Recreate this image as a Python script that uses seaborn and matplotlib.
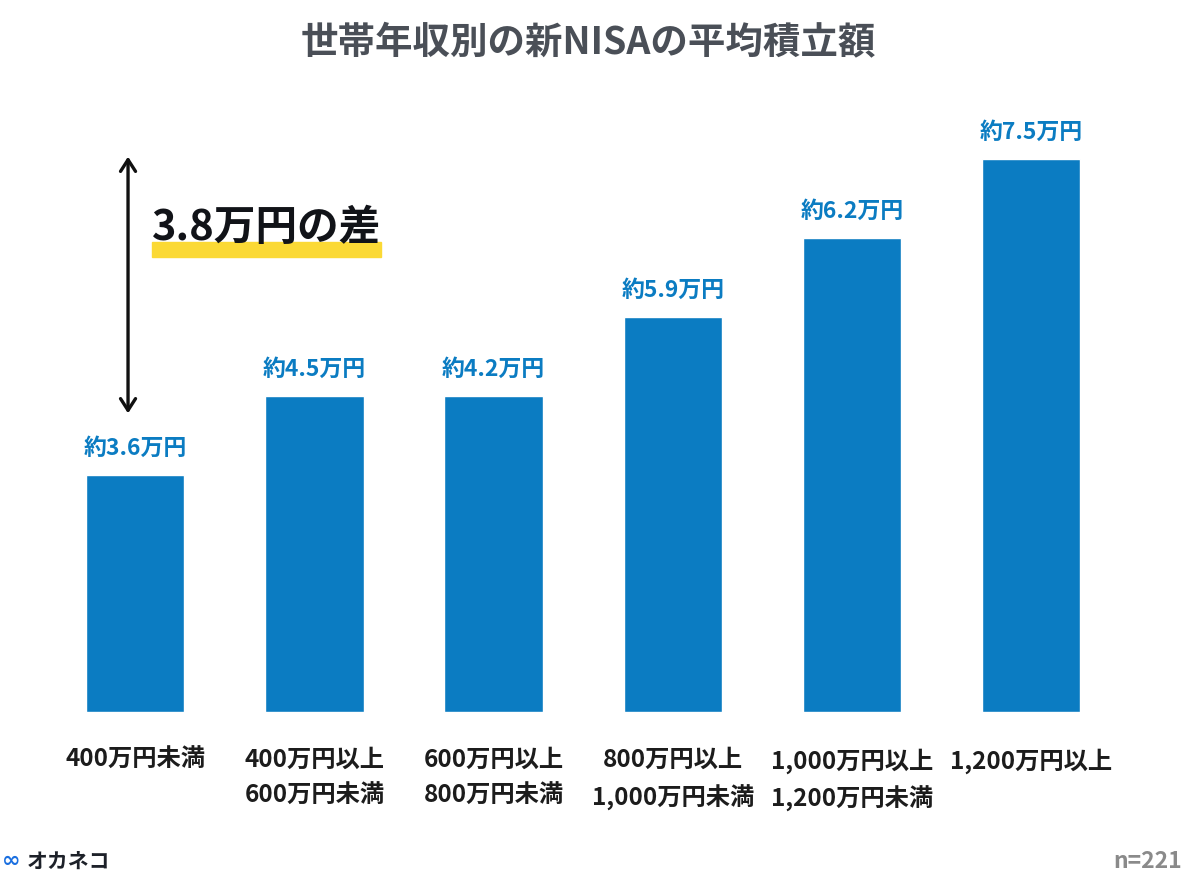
import matplotlib
matplotlib.use("Agg")
import matplotlib.pyplot as plt
import pandas as pd
import seaborn as sns

# データ
categories = ["400万円未満", "400万円以上\n600万円未満", "600万円以上\n800万円未満",
              "800万円以上\n1,000万円未満", "1,000万円以上\n1,200万円未満", "1,200万円以上"]
values = [3.6, 4.5, 4.2, 5.9, 6.2, 7.5]          # ラベルの金額 (万円)
bar_heights = [3, 4, 4, 5, 6, 7]                 # 図で描かれている棒の高さ
value_labels = ["約3.6万円", "約4.5万円", "約4.2万円", "約5.9万円", "約6.2万円", "約7.5万円"]
diff_label = "3.8万円の差"
title = "世帯年収別の新NISAの平均積立額"
n_label = "n=221"

sns.set_theme(style="white")
plt.rcParams['font.family'] = ['Noto Sans CJK JP', 'DejaVu Sans']

BLUE = "#0b7cc2"
df = pd.DataFrame({"cat": categories, "h": bar_heights})

fig = plt.figure(figsize=(12, 8.86), dpi=100)
ax = fig.add_axes([0.038, 0.1964, 0.896, 0.7133])
sns.barplot(data=df, x="cat", y="h", color=BLUE, width=0.55, saturation=1, ax=ax)
ax.set_xlim(-0.5, 5.5)
ax.set_ylim(0, 8)
ax.set_xlabel("")
ax.set_ylabel("")
ax.set_yticks([])
sns.despine(ax=ax, left=True, bottom=True)
ax.tick_params(axis="x", length=0, pad=26)
ax.set_xticks(range(len(categories)))
ax.set_xticklabels(categories, fontsize=17.5, fontweight="bold", color="#1c1c1c",
                   linespacing=1.6, va="top")

# 値ラベル
for i, (h, lab) in enumerate(zip(bar_heights, value_labels)):
    ax.annotate(lab, (i, h), xytext=(0, 11), textcoords="offset points",
                ha="center", va="bottom", fontsize=16.5, fontweight="bold", color=BLUE)

# 差の矢印
ax.annotate("", xy=(-0.04, 7.03), xytext=(-0.04, 3.78),
            arrowprops=dict(arrowstyle="<->,head_length=0.7,head_width=0.45",
                            color="#111111", lw=2.4, shrinkA=0, shrinkB=0))
fig.text(152 / 1200, 1 - 228 / 886, diff_label, ha="left", va="center",
         fontsize=30, fontweight="bold", color="#111318", zorder=5)
fig.patches.append(plt.Rectangle((152 / 1200, 1 - 257 / 886), 229 / 1200, 15 / 886,
                                 transform=fig.transFigure, color="#fbd935", zorder=1))

# タイトル
fig.text(0.49, 1 - 43 / 886, title, ha="center", va="center",
         fontsize=27, fontweight="bold", color="#4a4f57")

# フッター
fig.text(1182 / 1200, 1 - 861 / 886, n_label, ha="right", va="center",
         fontsize=16.5, fontweight="bold", color="#8a8a8a")
fig.text(27 / 1200, 1 - 861 / 886, "オカネコ", ha="left", va="center",
         fontsize=15, fontweight="bold", color="#1d2129")
fig.text(2 / 1200, 1 - 861 / 886, "∞", ha="left", va="center",
         fontsize=16, fontweight="bold", color="#1a6fe0", family=['DejaVu Sans'])

fig.savefig("out.png", dpi=100, facecolor="white")
